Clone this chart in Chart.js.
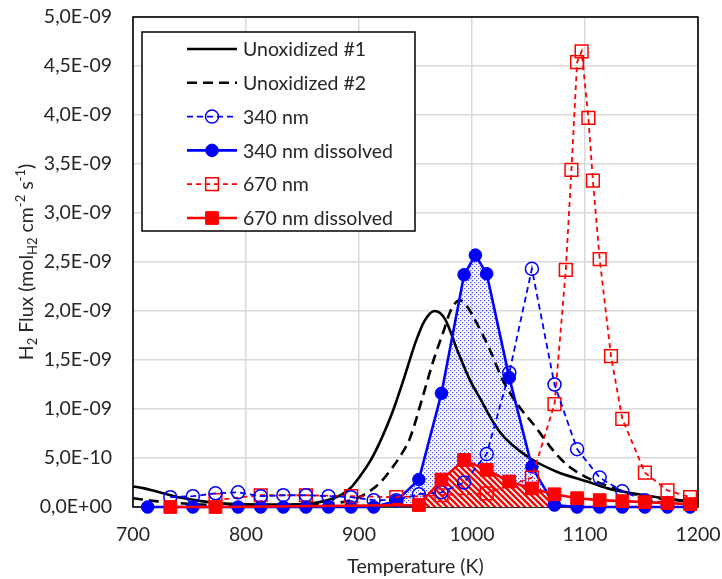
<!DOCTYPE html>
<html lang="en">
<head>
    <meta charset="UTF-8">
    <title>H2 Flux vs Temperature</title>
    <script src="https://cdn.jsdelivr.net/npm/chart.js"></script>
    <style>
        html, body { margin: 0; padding: 0; background: #fff; }
        #wrap { width: 722px; height: 579px; }
    </style>
</head>
<body>
<div id="wrap"><canvas id="fluxChart" width="722" height="579"></canvas></div>
<script>
    // flux values below are in units of 1e-9 mol cm-2 s-1
    const FLUX_UNIT = 1e-9;

    const seriesLabels = ['Unoxidized #1', 'Unoxidized #2', '340 nm', '340 nm dissolved', '670 nm', '670 nm dissolved'];

    const unox1T    = [700, 710, 720, 730, 740, 750, 760, 775, 790, 810, 830, 850, 865, 875, 885, 893, 900, 910, 920, 930, 940, 950, 958, 967, 976, 987, 998, 1008, 1017, 1025, 1035, 1051, 1075, 1102, 1120, 1142, 1170, 1200];
    const unox1Flux = [0.21, 0.19, 0.16, 0.13, 0.10, 0.08, 0.06, 0.04, 0.03, 0.025, 0.025, 0.03, 0.05, 0.08, 0.13, 0.20, 0.30, 0.47, 0.70, 0.98, 1.32, 1.68, 1.90, 2.00, 1.92, 1.60, 1.30, 1.09, 0.90, 0.76, 0.64, 0.50, 0.36, 0.26, 0.19, 0.14, 0.09, 0.05];

    const unox2T    = [700, 720, 740, 760, 780, 800, 840, 870, 890, 905, 918, 928, 936, 945, 957, 966, 975, 981, 989, 996, 1004, 1016, 1027, 1042, 1054, 1073, 1084, 1100, 1119, 1140, 1164, 1181, 1200];
    const unox2Flux = [0.09, 0.06, 0.04, 0.025, 0.02, 0.02, 0.02, 0.03, 0.06, 0.13, 0.24, 0.38, 0.51, 0.70, 1.15, 1.50, 1.80, 2.00, 2.11, 2.04, 1.88, 1.60, 1.30, 1.02, 0.85, 0.56, 0.43, 0.31, 0.22, 0.14, 0.09, 0.07, 0.05];

    const nm340T    = [733, 753, 773, 793, 813, 833, 853, 873, 893, 913, 933, 953, 973, 993, 1013, 1033, 1053, 1073, 1093, 1113, 1133, 1153, 1173, 1193];
    const nm340Flux = [0.10, 0.11, 0.14, 0.15, 0.11, 0.12, 0.12, 0.11, 0.10, 0.07, 0.07, 0.13, 0.15, 0.25, 0.54, 1.37, 2.43, 1.25, 0.59, 0.30, 0.16, 0.07, 0.04, 0.02];

    const nm340dT    = [713, 753, 793, 813, 833, 853, 873, 893, 913, 933, 953, 973, 993, 1003, 1013, 1033, 1053, 1073, 1093, 1113, 1133, 1153, 1173, 1193];
    const nm340dFlux = [0, 0, 0, 0, 0, 0, 0, 0, 0, 0.06, 0.28, 1.16, 2.37, 2.57, 2.38, 1.32, 0.41, 0.02, 0, 0, 0, 0, 0, 0];

    const nm670T    = [773, 813, 853, 893, 933, 973, 1013, 1053, 1073, 1083, 1088, 1093, 1097, 1103, 1107, 1113, 1123, 1133, 1153, 1173, 1193];
    const nm670Flux = [0.07, 0.12, 0.12, 0.11, 0.10, 0.12, 0.14, 0.30, 1.05, 2.42, 3.44, 4.54, 4.65, 3.97, 3.33, 2.53, 1.54, 0.90, 0.35, 0.17, 0.10];

    const nm670dT    = [733, 773, 953, 973, 993, 1013, 1033, 1053, 1073, 1093, 1113, 1133, 1153, 1173, 1193];
    const nm670dFlux = [0, 0, 0.02, 0.28, 0.48, 0.38, 0.26, 0.19, 0.13, 0.09, 0.07, 0.06, 0.05, 0.04, 0.03];

    // temperature windows of the shaded areas
    const blueShade = [933, 1073];
    const redShade = [953, 1073];

    const xTicks = [700, 800, 900, 1000, 1100, 1200];

    const BLUE = '#0000ff';
    const RED = '#ff0000';
    const TEXT = '#262626';
    const FONT = 'Lato, "Open Sans", sans-serif';
    const FSIZE = 19.5;

    function pairs(xs, ys) {
        return xs.map((x, i) => ({ x: x, y: ys[i] }));
    }

    function window_(xs, ys, range) {
        return pairs(xs, ys).filter(p => p.x >= range[0] && p.x <= range[1]);
    }

    function sciLabel(val) {
        if (val === 0) return '0,0E+00';
        const e = Math.floor(Math.log10(Math.abs(val)) + 1e-9);
        const m = val / Math.pow(10, e);
        return m.toFixed(1).replace('.', ',') + 'E' + (e < 0 ? '-' : '+') + String(Math.abs(e)).padStart(2, '0');
    }

    const canvas = document.getElementById('fluxChart');
    const ctx = canvas.getContext('2d');

    // dotted pattern for the 340 nm dissolved area
    function dotPattern() {
        const c = document.createElement('canvas');
        c.width = 4; c.height = 4;
        const g = c.getContext('2d');
        g.fillStyle = 'rgba(0,0,255,0.7)';
        g.fillRect(0, 0, 1.2, 1.2);
        g.fillRect(2, 2, 1.2, 1.2);
        return ctx.createPattern(c, 'repeat');
    }

    // red diagonal hatch for the 670 nm dissolved area
    function hatchPattern() {
        const c = document.createElement('canvas');
        c.width = 6; c.height = 6;
        const g = c.getContext('2d');
        g.fillStyle = '#fff';
        g.fillRect(0, 0, 6, 6);
        g.strokeStyle = RED;
        g.lineWidth = 2.4;
        g.beginPath();
        g.moveTo(-3, -3); g.lineTo(9, 9);
        g.moveTo(-3, 3); g.lineTo(3, 9);
        g.moveTo(3, -3); g.lineTo(9, 3);
        g.stroke();
        return ctx.createPattern(c, 'repeat');
    }

    const frame = {
        id: 'frame',
        beforeDatasetsDraw(chart) {
            const a = chart.chartArea;
            const c = chart.ctx;
            c.save();
            c.strokeStyle = '#000';
            c.lineWidth = 1.6;
            c.strokeRect(a.left, a.top, a.right - a.left, a.bottom - a.top);
            c.restore();
        }
    };

    // y title with sub/superscripts
    const yTitle = {
        id: 'yTitle',
        afterDraw(chart) {
            const c = chart.ctx;
            const a = chart.chartArea;
            const parts = [
                ['H', 0], ['2', 1], [' Flux (mol', 0], ['H2', 1], [' cm', 0], ['-2', 2], [' s', 0], ['-1', 2], [')', 0]
            ];
            const big = FSIZE + 'px ' + FONT, small = '13px ' + FONT;
            c.save();
            let total = 0;
            parts.forEach(p => { c.font = p[1] ? small : big; total += c.measureText(p[0]).width; });
            c.translate(27, (a.top + a.bottom) / 2);
            c.rotate(-Math.PI / 2);
            c.fillStyle = TEXT;
            c.textBaseline = 'middle';
            let x = -total / 2;
            parts.forEach(p => {
                c.font = p[1] ? small : big;
                const dy = p[1] === 1 ? 6 : (p[1] === 2 ? -6 : 0);
                c.fillText(p[0], x, dy);
                x += c.measureText(p[0]).width;
            });
            c.restore();
        }
    };

    function drawMarker(c, ds, x, y) {
        const r = ds.pointRadius;
        if (!r) return;
        c.save();
        c.setLineDash([]);
        c.lineWidth = ds.pointBorderWidth;
        c.strokeStyle = ds.pointBorderColor;
        c.fillStyle = ds.pointBackgroundColor;
        c.beginPath();
        if (ds.pointStyle === 'rect') {
            const s = r * Math.SQRT1_2;
            c.rect(x - s, y - s, 2 * s, 2 * s);
        } else {
            c.arc(x, y, r, 0, Math.PI * 2);
        }
        c.fill();
        c.stroke();
        c.restore();
    }

    const boxLegend = {
        id: 'boxLegend',
        afterDraw(chart) {
            const c = chart.ctx;
            const a = chart.chartArea;
            const x0 = a.left + 9, y0 = a.top + 15, w = 273, h = 199;
            c.save();
            c.fillStyle = '#fff';
            c.fillRect(x0, y0, w, h);
            c.strokeStyle = '#000';
            c.lineWidth = 1.5;
            c.strokeRect(x0, y0, w, h);
            c.font = FSIZE + 'px ' + FONT;
            c.textBaseline = 'middle';
            chart.data.datasets.slice(0, seriesLabels.length).forEach((ds, i) => {
                const y = y0 + 17 + i * 33.8;
                c.save();
                c.strokeStyle = ds.borderColor;
                c.lineWidth = ds.borderWidth;
                c.setLineDash(ds.borderDash || []);
                c.beginPath();
                c.moveTo(x0 + 45, y);
                c.lineTo(x0 + 95, y);
                c.stroke();
                c.restore();
                drawMarker(c, ds, x0 + 70, y);
                c.fillStyle = TEXT;
                c.fillText(ds.label, x0 + 101, y + 1);
            });
            c.restore();
        }
    };

    new Chart(ctx, {
        type: 'line',
        data: {
            datasets: [
                {
                    label: seriesLabels[0], data: pairs(unox1T, unox1Flux),
                    borderColor: '#000', borderWidth: 2.6, pointRadius: 0,
                    cubicInterpolationMode: 'monotone', order: 6
                },
                {
                    label: seriesLabels[1], data: pairs(unox2T, unox2Flux),
                    borderColor: '#000', borderWidth: 2.6, borderDash: [10, 6], pointRadius: 0,
                    cubicInterpolationMode: 'monotone', order: 5
                },
                {
                    label: seriesLabels[2], data: pairs(nm340T, nm340Flux),
                    borderColor: BLUE, borderWidth: 1.8, borderDash: [6, 4],
                    pointStyle: 'circle', pointRadius: 6.5, pointBorderWidth: 1.5,
                    pointBorderColor: BLUE, pointBackgroundColor: 'rgba(0,0,0,0)', order: 2
                },
                {
                    label: seriesLabels[3], data: pairs(nm340dT, nm340dFlux),
                    borderColor: BLUE, borderWidth: 2.6,
                    pointStyle: 'circle', pointRadius: 6.3, pointBorderWidth: 1,
                    pointBorderColor: BLUE, pointBackgroundColor: BLUE, order: 4
                },
                {
                    label: seriesLabels[4], data: pairs(nm670T, nm670Flux),
                    borderColor: RED, borderWidth: 1.8, borderDash: [5, 4],
                    pointStyle: 'rect', pointRadius: 9, pointBorderWidth: 1.5,
                    pointBorderColor: RED, pointBackgroundColor: 'rgba(0,0,0,0)', order: 3
                },
                {
                    label: seriesLabels[5], data: pairs(nm670dT, nm670dFlux),
                    borderColor: RED, borderWidth: 2.6,
                    pointStyle: 'rect', pointRadius: 9, pointBorderWidth: 1,
                    pointBorderColor: RED, pointBackgroundColor: RED, order: 1
                },
                {
                    label: 'shade 340 nm dissolved', data: window_(nm340dT, nm340dFlux, blueShade),
                    borderWidth: 0, pointRadius: 0, fill: 'origin',
                    backgroundColor: dotPattern(), order: 9
                },
                {
                    label: 'shade 670 nm dissolved', data: window_(nm670dT, nm670dFlux, redShade),
                    borderWidth: 0, pointRadius: 0, fill: 'origin',
                    backgroundColor: hatchPattern(), order: 8
                }
            ]
        },
        options: {
            responsive: false,
            animation: false,
            clip: false,
            layout: { padding: { left: 0, top: 17, right: 24, bottom: 0 } },
            plugins: {
                legend: { display: false },
                tooltip: { enabled: false }
            },
            scales: {
                x: {
                    type: 'linear', min: 700, max: 1200,
                    afterBuildTicks: s => { s.ticks = xTicks.map(v => ({ value: v })); },
                    ticks: {
                        color: TEXT, font: { family: FONT, size: FSIZE }, padding: 16,
                        callback: v => String(v)
                    },
                    grid: { color: '#d9d9d9', lineWidth: 1.5, drawTicks: false },
                    border: { display: false },
                    title: {
                        display: true, text: 'Temperature (K)', color: TEXT,
                        font: { family: FONT, size: FSIZE }, padding: { top: 0, bottom: 1 }
                    },
                    afterFit: s => { s.height = 72; s.paddingLeft = 0; s.paddingRight = 0; }
                },
                y: {
                    min: 0, max: 5,
                    ticks: {
                        stepSize: 0.5, color: TEXT, font: { family: FONT, size: FSIZE }, padding: 21,
                        callback: v => sciLabel(v * FLUX_UNIT)
                    },
                    grid: { color: '#d9d9d9', lineWidth: 1.5, drawTicks: false },
                    border: { display: false },
                    afterFit: s => { s.width = 133; s.paddingTop = 0; s.paddingBottom = 0; }
                }
            }
        },
        plugins: [frame, yTitle, boxLegend]
    });
</script>
</body>
</html>
